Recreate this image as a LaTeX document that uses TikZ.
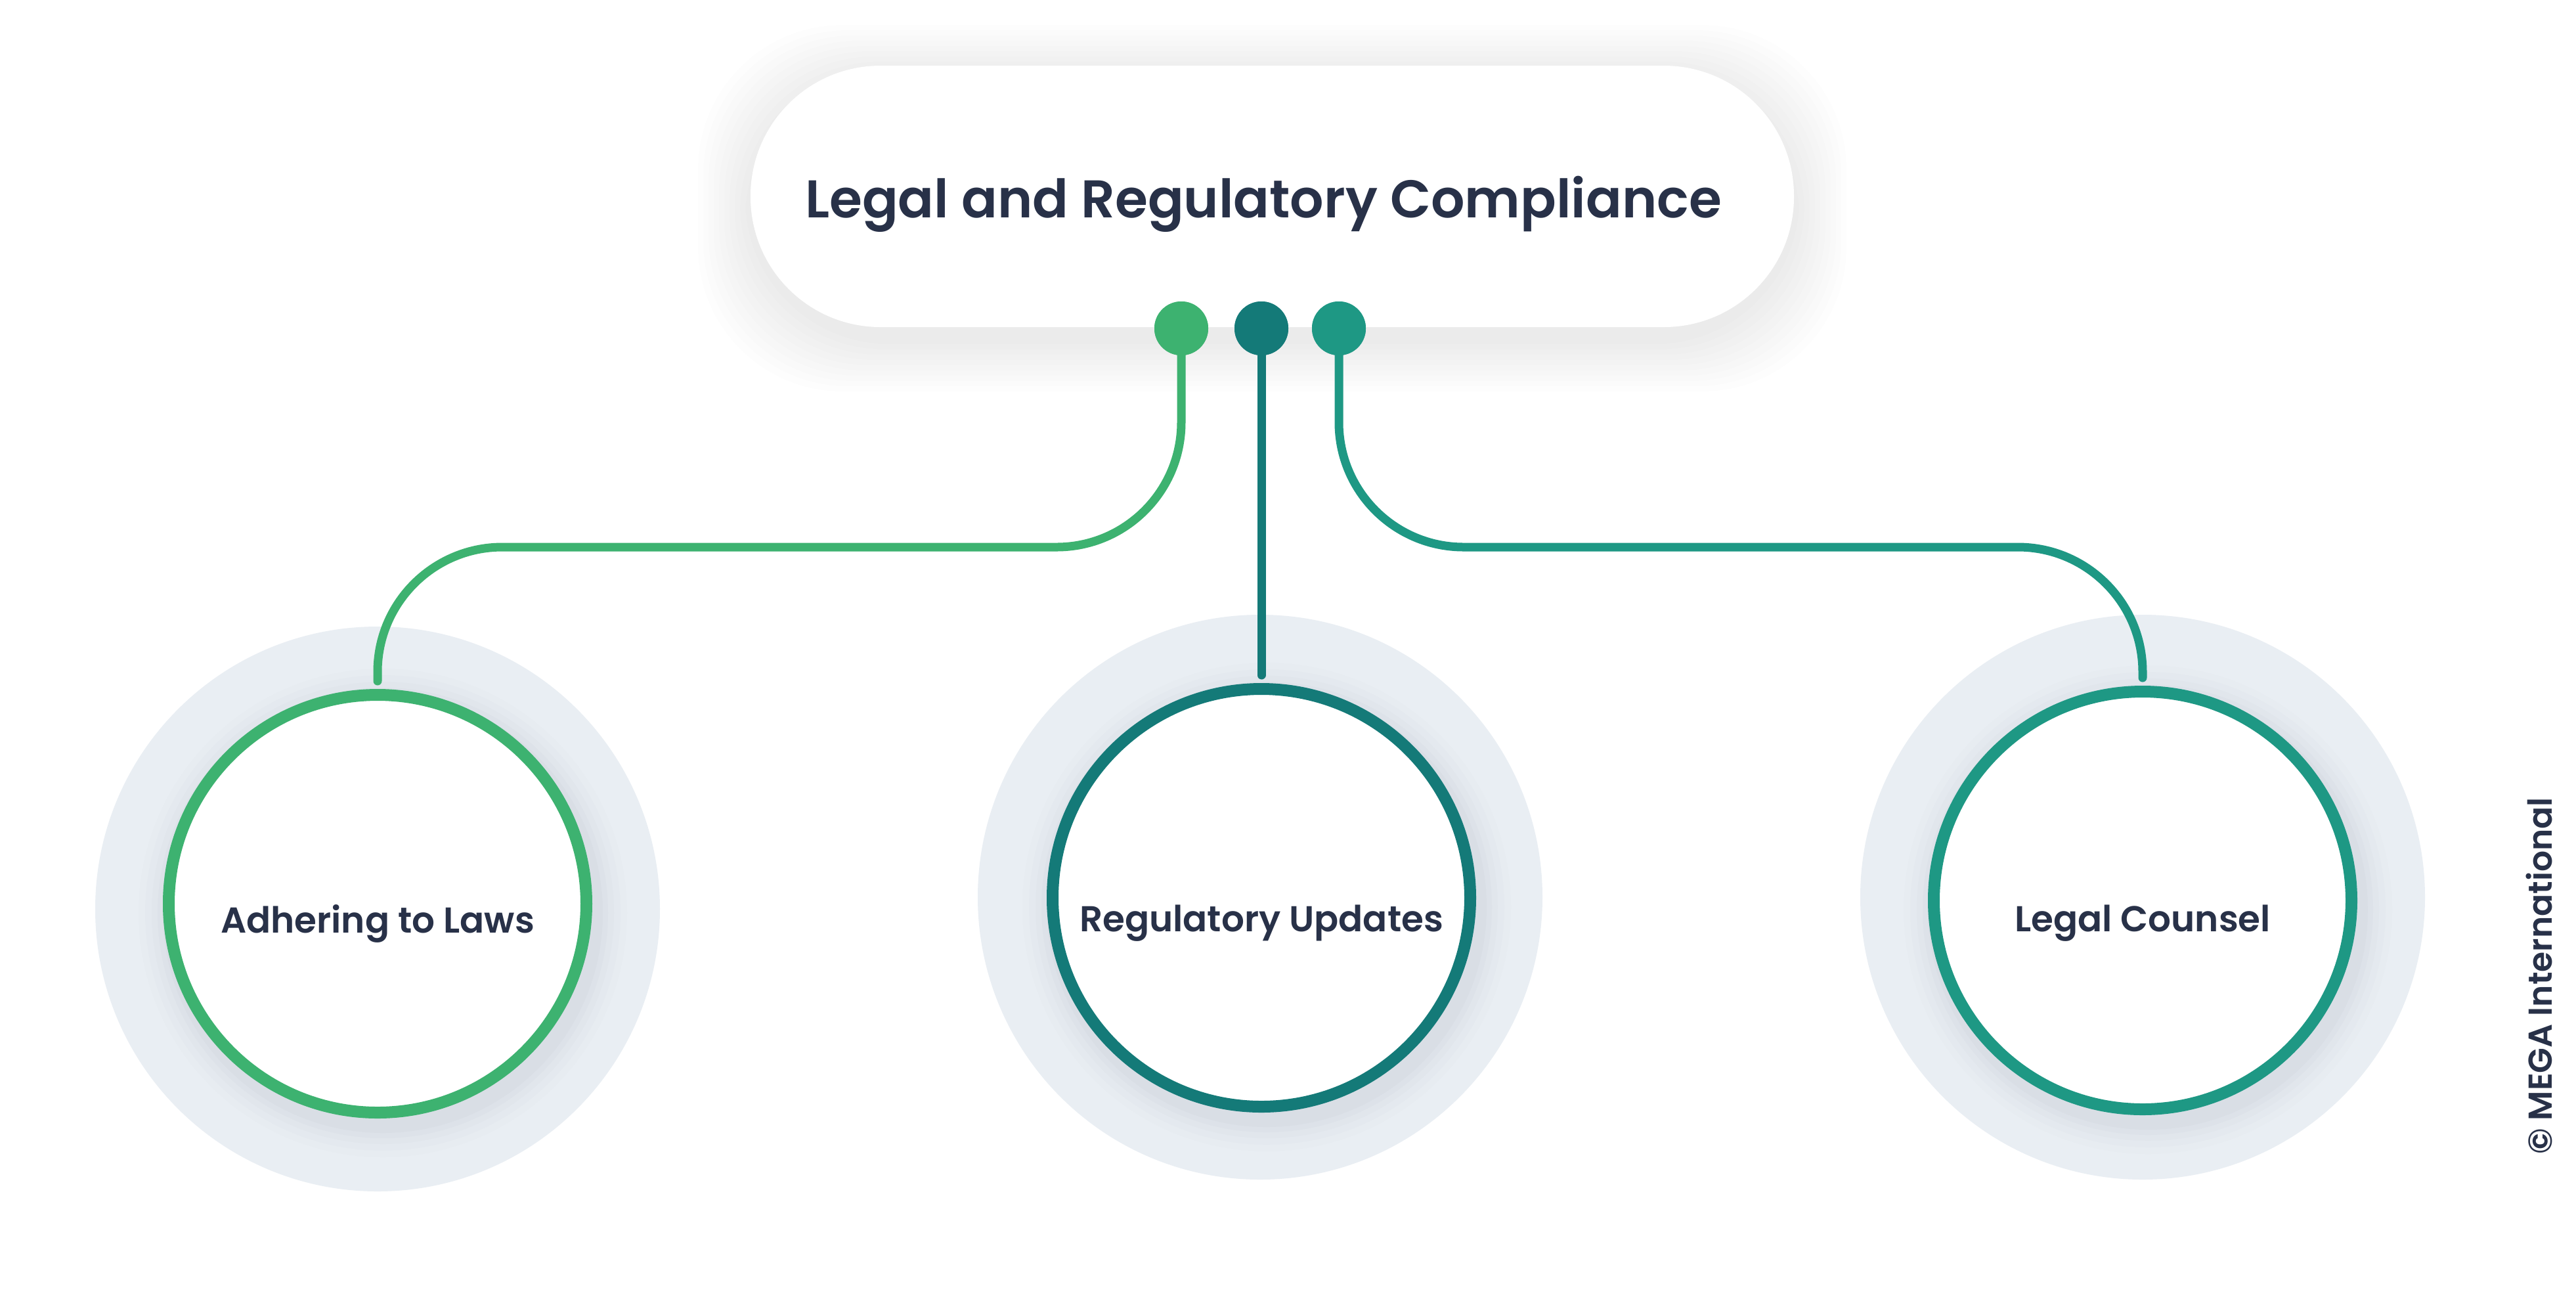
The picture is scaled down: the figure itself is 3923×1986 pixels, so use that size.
\documentclass[tikz,border=0pt]{standalone}
\usepackage{fontspec}
\setmainfont{Poppins}
\newfontfamily\semib{Poppins SemiBold}
\newfontfamily\medf{Poppins Medium}
\definecolor{txt}{HTML}{283148}
\definecolor{cA}{HTML}{3DB270}
\definecolor{cB}{HTML}{147A78}
\definecolor{cC}{HTML}{1E9884}
\definecolor{halo}{HTML}{E9EEF3}
\definecolor{shd}{HTML}{9AA6B4}
\tikzset{
  conn/.style={line width=3.25pt, line cap=round, rounded corners=47.5pt, shorten >=3pt},
  dotnode/.style={circle, minimum size=20.5pt, inner sep=0pt},
  halonode/.style={circle, fill=halo, minimum size=215pt, inner sep=0pt},
  ringnode/.style={circle, fill=white, line width=4.5pt, minimum size=159pt, inner sep=0pt},
  ringtext/.style={inner sep=0pt, text=txt, font=\semib\fontsize{13.7pt}{16pt}\selectfont},
  topbox/.style={rectangle, fill=white, rounded corners=49.5pt, minimum width=397.25pt, minimum height=99.5pt, inner sep=0pt},
  toptext/.style={inner sep=0pt, text=txt, font=\semib\fontsize{20.2pt}{22pt}\selectfont},
}
\begin{document}
\begin{tikzpicture}[x=0.25pt,y=-0.25pt]
\useasboundingbox[fill=white] (0,0) rectangle (3923,1986);
% halos
\node[halonode] (h1) at (575,1384) {};
\node[halonode] (h2) at (1919,1366) {};
\node[halonode] (h3) at (3263,1366) {};
% ring shadows
\foreach \cx/\cy in {575/1376,1921/1367,3263/1371}{
  \foreach \r/\o in {372/0.025,362/0.03,352/0.04,343/0.05,335/0.06}{
    \fill[shd,opacity=\o] (\cx+8,\cy+14) circle[radius=\r*0.25pt];
  }
}
% top box shadow
\foreach \i in {80,72,...,8}{
  \fill[black,opacity=0.008,rounded corners=55pt] (1143-\i,100-\i+18) rectangle (2732+\i,498+\i+18);
}
\node[topbox] (top) at (1937.5,299) {};
\node[toptext] (title) at (1924,311) {Legal and Regulatory Compliance};
% circles
\node[ringnode, draw=cA] (c1) at (575,1376) {};
\node[ringnode, draw=cB] (c2) at (1921,1367) {};
\node[ringnode, draw=cC] (c3) at (3263,1371) {};
\coordinate (labely) at (0,1406);
\node[ringtext] (t1) at (c1 |- labely) {Adhering to Laws};
\node[ringtext] (t2) at (c2 |- labely) {Regulatory Updates};
\node[ringtext] (t3) at (c3 |- labely) {Legal Counsel};
% dots
\node[dotnode, fill=cA] (d1) at (1799,500) {};
\node[dotnode, fill=cB] (d2) at (1921,500) {};
\node[dotnode, fill=cC] (d3) at (2039,500) {};
\coordinate (bus) at (0,833);
% connectors
\draw[conn, draw=cA] (d1.center) -- (d1.center |- bus) -- (c1.north |- bus) -- (c1.north);
\draw[conn, draw=cB] (d2.center) -- (c2.north);
\draw[conn, draw=cC] (d3.center) -- (d3.center |- bus) -- (c3.north |- bus) -- (c3.north);
% dots on top
\node[dotnode, fill=cA] at (d1) {};
\node[dotnode, fill=cB] at (d2) {};
\node[dotnode, fill=cC] at (d3) {};
% copyright
\node[rotate=90, text=txt, font=\semib\fontsize{12.6pt}{14pt}\selectfont] (copy) at (3867,1486) {© MEGA International};
\end{tikzpicture}
\end{document}
